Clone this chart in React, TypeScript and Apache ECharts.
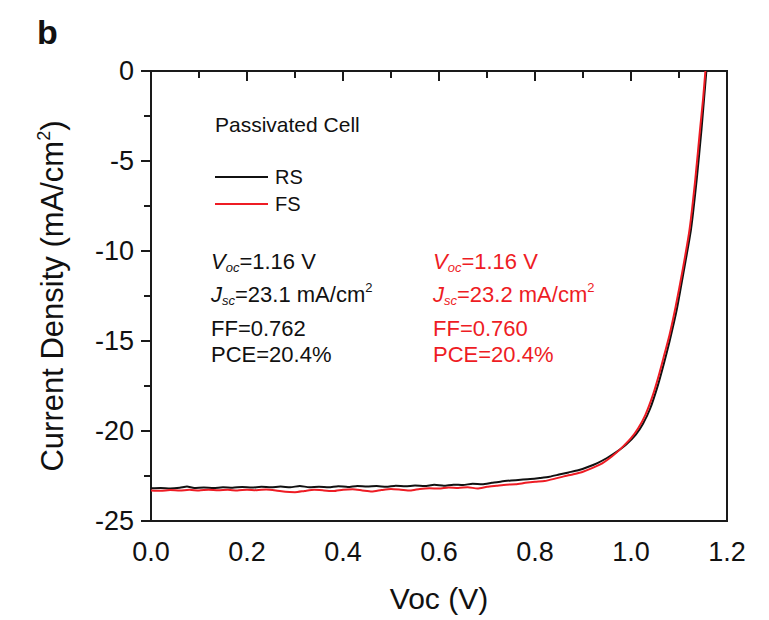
import React, { useEffect, useRef } from "react";
import * as echarts from "echarts";

// Reverse scan (RS)
const RS_V = [0.0, 0.02, 0.04, 0.06, 0.075, 0.09, 0.11, 0.13, 0.15, 0.17, 0.19, 0.21, 0.23, 0.25, 0.27, 0.29, 0.31, 0.33, 0.35, 0.37, 0.39, 0.41, 0.43, 0.45, 0.47, 0.49, 0.51, 0.53, 0.55, 0.57, 0.59, 0.61, 0.63, 0.65, 0.67, 0.69, 0.71, 0.73, 0.75, 0.77, 0.79, 0.81, 0.83, 0.85, 0.87, 0.89, 0.91, 0.93, 0.95, 0.97, 0.99, 1.01, 1.025, 1.04, 1.055, 1.068, 1.08, 1.095, 1.11, 1.125, 1.137, 1.147, 1.152, 1.157];
const RS_J = [-23.18, -23.16, -23.19, -23.15, -23.08, -23.16, -23.14, -23.17, -23.13, -23.15, -23.11, -23.14, -23.1, -23.13, -23.09, -23.12, -23.06, -23.12, -23.1, -23.13, -23.07, -23.11, -23.05, -23.09, -23.06, -23.1, -23.04, -23.07, -23.03, -23.06, -22.99, -23.04, -22.98, -23.0, -22.93, -22.96, -22.88, -22.8, -22.75, -22.71, -22.67, -22.61, -22.54, -22.42, -22.3, -22.18, -22.0, -21.78, -21.5, -21.16, -20.75, -20.2, -19.6, -18.75, -17.55, -16.3, -15.05, -13.3, -11.1, -8.8, -6.0, -3.2, -1.6, 0.0];

// Forward scan (FS)
const FS_V = [0.0, 0.02, 0.04, 0.06, 0.08, 0.1, 0.12, 0.14, 0.16, 0.18, 0.2, 0.22, 0.24, 0.26, 0.28, 0.3, 0.32, 0.34, 0.36, 0.38, 0.4, 0.42, 0.44, 0.46, 0.48, 0.5, 0.52, 0.54, 0.56, 0.58, 0.6, 0.62, 0.64, 0.66, 0.68, 0.7, 0.72, 0.74, 0.76, 0.78, 0.8, 0.82, 0.84, 0.86, 0.88, 0.9, 0.92, 0.94, 0.96, 0.98, 1.0, 1.015, 1.03, 1.045, 1.058, 1.07, 1.08, 1.093, 1.108, 1.122, 1.134, 1.144, 1.15, 1.155];
const FS_J = [-23.3, -23.32, -23.28, -23.31, -23.27, -23.3, -23.26, -23.29, -23.27, -23.3, -23.26, -23.29, -23.25, -23.3, -23.38, -23.4, -23.33, -23.27, -23.3, -23.34, -23.26, -23.24, -23.3, -23.36, -23.28, -23.22, -23.26, -23.31, -23.22, -23.18, -23.2, -23.14, -23.17, -23.12, -23.2, -23.1, -23.04, -22.98, -22.96, -22.88, -22.82, -22.78, -22.66, -22.52, -22.4, -22.26, -22.05, -21.8, -21.42, -20.95, -20.4, -19.85, -19.1, -18.05, -16.9, -15.7, -14.7, -13.1, -11.0, -8.8, -6.0, -3.2, -1.6, 0.0];

const SERIES_NAMES = ["RS", "FS"];
const X_TICKS = { min: 0, max: 1.2, interval: 0.2 };
const Y_TICKS = { min: -25, max: 0, interval: 5 };

const RS_STATS = ["{it|V}{sub|oc}=1.16 V", "{it|J}{sub|sc}=23.1 mA/cm{sup|2}", "FF=0.762", "PCE=20.4%"];
const FS_STATS = ["{it|V}{sub|oc}=1.16 V", "{it|J}{sub|sc}=23.2 mA/cm{sup|2}", "FF=0.760", "PCE=20.4%"];

const FONT = "'Liberation Sans', Arial, Helvetica, sans-serif";
const BLACK = "#111111";
const RED = "#ee1c24";
const AXIS = "#1a1a1a";

function richFor(color: string) {
  return {
    it: { fontFamily: FONT, fontSize: 22, fontStyle: "italic", color, fill: color },
    sub: { fontFamily: FONT, fontSize: 13, fontStyle: "italic", color, fill: color, padding: [13, 0, 0, 0] },
    sup: { fontFamily: FONT, fontSize: 13, color, fill: color, padding: [0, 0, 13, 0] },
  };
}

export default function App() {
  const ref = useRef<HTMLDivElement>(null);
  useEffect(() => {
    if (!ref.current) return;
    const chart = echarts.init(ref.current, null, { renderer: "svg" });
    const rsData = RS_V.map((v, i) => [v, RS_J[i]]);
    const fsData = FS_V.map((v, i) => [v, FS_J[i]]);
    const statYs = [261, 294, 328, 354];
    const statEls: any[] = [];
    [
      { lines: RS_STATS, x: 211, color: BLACK },
      { lines: FS_STATS, x: 433, color: RED },
    ].forEach((col) => {
      col.lines.forEach((t, i) => {
        statEls.push({
          type: "text",
          x: col.x,
          y: statYs[i],
          style: {
            text: t,
            fill: col.color,
            fontFamily: FONT,
            fontSize: 22,
            align: "left",
            verticalAlign: "middle",
            rich: richFor(col.color),
          },
        });
      });
    });
    const axisCommon = {
      axisLine: { show: true, lineStyle: { color: AXIS, width: 2 } },
      axisTick: { show: true, inside: false, length: 10, lineStyle: { color: AXIS, width: 2 } },
      minorTick: { show: true, splitNumber: 2, length: 7, lineStyle: { color: AXIS, width: 2 } },
      splitLine: { show: false },
      minorSplitLine: { show: false },
    };
    chart.setOption({
      animation: false,
      backgroundColor: "#ffffff",
      grid: { left: 151, right: 42, top: 71, bottom: 99, show: true, borderColor: AXIS, borderWidth: 2, backgroundColor: "transparent" },
      legend: {
        orient: "vertical",
        left: 215,
        top: 167,
        padding: 0,
        itemWidth: 53,
        itemHeight: 2,
        itemGap: 7,
        icon: "rect",
        data: SERIES_NAMES,
        textStyle: { fontFamily: FONT, fontSize: 20, color: BLACK, lineHeight: 20, padding: [0, 0, 0, 2] },
      },
      xAxis: {
        type: "value",
        min: X_TICKS.min,
        max: X_TICKS.max,
        interval: X_TICKS.interval,
        ...axisCommon,
        axisLabel: { fontFamily: FONT, fontSize: 27, color: BLACK, margin: 17, formatter: (v: number) => v.toFixed(1) },
        name: "Voc (V)",
        nameLocation: "middle",
        nameGap: 62,
        nameTextStyle: { fontFamily: FONT, fontSize: 30, color: BLACK },
      },
      yAxis: {
        type: "value",
        min: Y_TICKS.min,
        max: Y_TICKS.max,
        interval: Y_TICKS.interval,
        ...axisCommon,
        axisLabel: { fontFamily: FONT, fontSize: 27, color: BLACK, margin: 17 },
        name: "Current Density (mA/cm{sup|2})",
        nameLocation: "middle",
        nameGap: 81,
        nameTextStyle: {
          fontFamily: FONT,
          fontSize: 31,
          color: BLACK,
          rich: {
            sup: { fontFamily: FONT, fontSize: 18, color: BLACK, padding: [0, 0, 17, 0] },
          },
        },
      },
      series: [
        {
          name: SERIES_NAMES[0],
          type: "line",
          data: rsData,
          symbol: "none",
          smooth: 0.2,
          lineStyle: { color: BLACK, width: 2 },
          itemStyle: { color: BLACK },
        },
        {
          name: SERIES_NAMES[1],
          type: "line",
          data: fsData,
          symbol: "none",
          smooth: 0.2,
          lineStyle: { color: RED, width: 2 },
          itemStyle: { color: RED },
        },
      ],
      graphic: [
        {
          type: "text",
          x: 37,
          y: 32,
          style: { text: "b", fontFamily: FONT, fontSize: 34, fontWeight: "bold", fill: "#111", align: "left", verticalAlign: "middle" },
        },
        {
          type: "text",
          x: 215,
          y: 124,
          style: { text: "Passivated Cell", fontFamily: FONT, fontSize: 21, fill: BLACK, align: "left", verticalAlign: "middle" },
        },
        ...statEls,
      ],
    });
    return () => chart.dispose();
  }, []);
  return <div ref={ref} style={{ position: "fixed", left: 0, top: 0, width: 769, height: 620, background: "#fff" }} />;
}
